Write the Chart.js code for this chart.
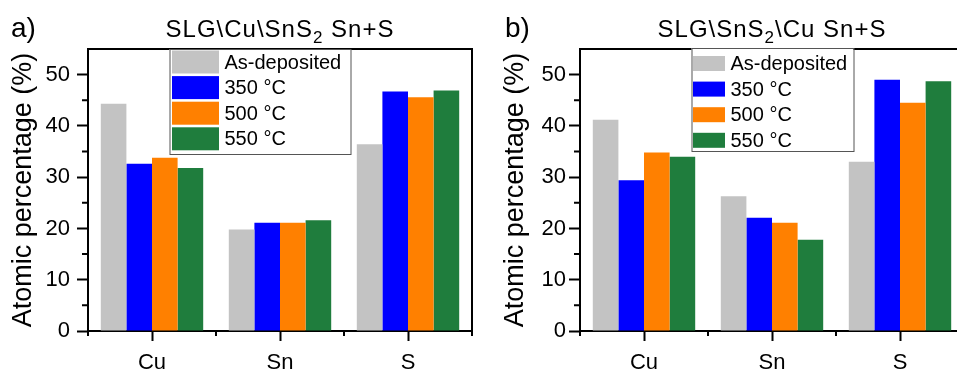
<!DOCTYPE html>
<html>
<head>
<meta charset="utf-8">
<script src="https://cdn.jsdelivr.net/npm/chart.js@4"></script>
<style>
  body { margin: 0; background: #fff; }
  #wrap { position: relative; width: 957px; height: 369px; overflow: hidden; background: #fff; }
  canvas { position: absolute; top: 0; }
</style>
</head>
<body>
<div id="wrap">
  <canvas id="chartA" width="478" height="369" style="left:0"></canvas>
  <canvas id="chartB" width="500" height="369" style="left:478px"></canvas>
</div>
<script>
// categories and series
const categories = ['Cu', 'Sn', 'S'];
const seriesNames = ['As-deposited', '350 °C', '500 °C', '550 °C'];
const seriesColors = ['#c3c3c3', '#0000ff', '#ff8000', '#1f7d3d'];
const yTicks = [0, 10, 20, 30, 40, 50];
const yMinorTicks = [5, 15, 25, 35, 45];

// a) SLG\Cu\SnS2 Sn+S
const aAsDeposited = [44.3, 19.8, 36.4];
const a350 = [32.6, 21.1, 46.7];
const a500 = [33.8, 21.1, 45.6];
const a550 = [31.8, 21.6, 46.9];

// b) SLG\SnS2\Cu Sn+S
const bAsDeposited = [41.2, 26.3, 33.0];
const b350 = [29.4, 22.1, 49.0];
const b500 = [34.8, 21.1, 44.5];
const b550 = [34.0, 17.8, 48.7];

const FONT = "'Liberation Sans', Arial, sans-serif";
Chart.defaults.font.family = FONT;
Chart.defaults.color = '#000';

// frame, minor ticks, legend box and titles
const extras = {
    id: 'extras',
    afterDraw(chart, args, o) {
        const ctx = chart.ctx;
        const a = chart.chartArea;
        const x = chart.scales.x, y = chart.scales.y;
        ctx.save();
        ctx.strokeStyle = '#000';
        ctx.lineWidth = 2;
        ctx.beginPath();
        ctx.moveTo(a.left, a.top);
        ctx.lineTo(a.right, a.top);
        ctx.lineTo(a.right, a.bottom);
        // minor y ticks
        yMinorTicks.forEach(v => {
            const py = y.getPixelForValue(v);
            ctx.moveTo(a.left - 6, py);
            ctx.lineTo(a.left, py);
        });
        // short x ticks between categories
        for (let i = 0; i <= categories.length; i++) {
            let px;
            if (i === 0) px = a.left;
            else if (i === categories.length) px = a.right;
            else px = (x.getPixelForValue(i - 1) + x.getPixelForValue(i)) / 2;
            ctx.moveTo(px, a.bottom);
            ctx.lineTo(px, a.bottom + 5);
        }
        ctx.stroke();

        // legend
        const L = o.legend;
        const bx = a.left + L.dx, by = L.top;
        ctx.fillStyle = '#fff';
        ctx.fillRect(bx, by, L.w, L.h);
        ctx.lineWidth = 1;
        ctx.strokeStyle = '#555';
        ctx.strokeRect(bx + 0.5, by + 0.5, L.w, L.h);
        ctx.font = L.size + 'px ' + FONT;
        ctx.textBaseline = 'middle';
        ctx.textAlign = 'left';
        chart.data.datasets.forEach((ds, i) => {
            const cy = by + L.first + i * L.pitch;
            ctx.fillStyle = ds.backgroundColor;
            ctx.fillRect(bx + L.sx, cy - L.sh / 2, L.sw, L.sh);
            ctx.fillStyle = '#000';
            ctx.fillText(ds.label, bx + L.tx, cy + 1);
        });

        // panel letter
        ctx.font = '28px ' + FONT;
        ctx.textBaseline = 'alphabetic';
        ctx.fillText(o.letter, o.letterX, 37);

        // title with subscript
        const parts = o.title;
        const big = '24px ' + FONT, small = '17px ' + FONT;
        ctx.letterSpacing = '1px';
        let total = 0;
        parts.forEach(p => { ctx.font = p.sub ? small : big; total += ctx.measureText(p.t).width; });
        let tx = (a.left + a.right) / 2 - total / 2;
        parts.forEach(p => {
            ctx.font = p.sub ? small : big;
            ctx.fillText(p.t, tx, p.sub ? 43 : 37);
            tx += ctx.measureText(p.t).width;
        });
        ctx.restore();
    }
};

function makeChart(id, values, cfg) {
    const datasets = values.map((vals, i) => ({
        label: seriesNames[i],
        data: vals,
        backgroundColor: seriesColors[i],
        borderWidth: 0,
        categoryPercentage: 0.8,
        barPercentage: 1.0
    }));
    return new Chart(document.getElementById(id), {
        type: 'bar',
        data: { labels: categories, datasets: datasets },
        plugins: [extras],
        options: {
            responsive: false,
            animation: false,
            layout: { padding: { top: 49, right: cfg.padRight, bottom: 0, left: 0 } },
            plugins: {
                legend: { display: false },
                tooltip: { enabled: false },
                extras: cfg.extras
            },
            scales: {
                x: {
                    grid: { offset: false, drawOnChartArea: false, tickLength: 10, tickWidth: 2, tickColor: '#000' },
                    border: { display: true, color: '#000', width: 2 },
                    ticks: { font: { size: 22 }, padding: 9, color: '#000' },
                    afterFit: s => { s.height = 38; }
                },
                y: {
                    min: 0,
                    max: 55,
                    afterBuildTicks: s => { s.ticks = yTicks.map(v => ({ value: v })); },
                    grid: { drawOnChartArea: false, tickLength: 11, tickWidth: 2, tickColor: '#000' },
                    border: { display: true, color: '#000', width: 2 },
                    ticks: { font: { size: 22 }, padding: cfg.tickPad, color: '#000' },
                    title: {
                        display: true,
                        text: 'Atomic percentage (%)',
                        font: { size: 27 },
                        color: '#000',
                        padding: { top: cfg.titlePad, bottom: 0 }
                    },
                    afterFit: s => { s.width = cfg.yWidth; }
                }
            }
        }
    });
}

makeChart('chartA', [aAsDeposited, a350, a500, a550], {
    padRight: 6, yWidth: 88, tickPad: 7, titlePad: 7,
    extras: {
        letter: 'a)', letterX: 11,
        title: [{ t: 'SLG\\Cu\\SnS' }, { t: '2', sub: true }, { t: ' Sn+S' }],
        legend: { dx: 81.5, top: 49, w: 181, h: 105, sx: 2.5, sw: 47, sh: 23, first: 13, pitch: 25.6, tx: 55, size: 20 }
    }
});

makeChart('chartB', [bAsDeposited, b350, b500, b550], {
    padRight: 14, yWidth: 102, tickPad: 3, titlePad: 21,
    extras: {
        letter: 'b)', letterX: 27,
        title: [{ t: 'SLG\\SnS' }, { t: '2', sub: true }, { t: '\\Cu Sn+S' }],
        legend: { dx: 111.5, top: 48, w: 162, h: 103, sx: 1.5, sw: 32, sh: 15, first: 15.5, pitch: 25.6, tx: 39, size: 20 }
    }
});
</script>
</body>
</html>
